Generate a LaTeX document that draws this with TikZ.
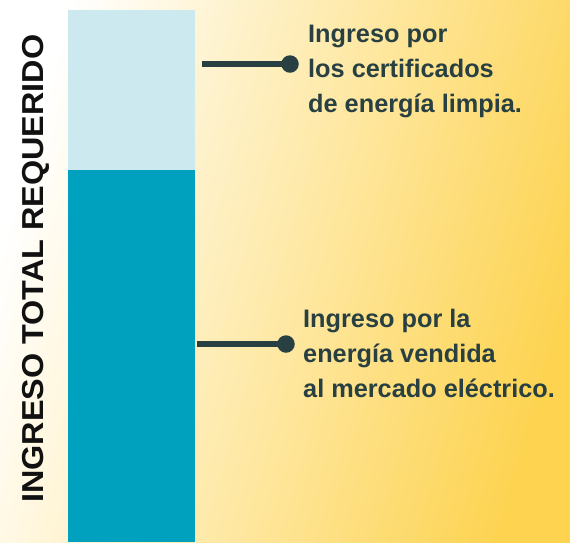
\documentclass[tikz,border=0pt]{standalone}
\usepackage{fontspec}
\setmainfont{Liberation Sans}
\definecolor{bglight}{RGB}{255,255,255}
\definecolor{bgmid}{RGB}{254,239,190}
\definecolor{bgyellow}{RGB}{253,211,80}
\definecolor{barlight}{RGB}{203,233,239}
\definecolor{bardark}{RGB}{0,160,191}
\definecolor{ink}{RGB}{40,64,65}
\definecolor{axisink}{RGB}{17,17,17}
\tikzset{
  label/.style={anchor=north west, inner sep=0pt, align=left, text=ink,
    font=\fontsize{25.3}{35}\selectfont\bfseries},
  dot/.style={circle, fill=ink, inner sep=0pt, minimum size=17.5pt},
  leader/.style={draw=ink, line width=6.5pt},
}
\begin{document}
\begin{tikzpicture}[x=1pt,y=-1pt]
\useasboundingbox (0,0) rectangle (570,542);
\shade[top color=bglight, middle color=bgmid, bottom color=bgyellow, shading angle=74] (0,0) rectangle (570,542);
% bar
\fill[barlight] (68,10) rectangle (195,170);
\fill[bardark] (68,170) rectangle (195,542);
% vertical axis label
\node[rotate=90, anchor=base west, inner sep=0pt, text=axisink,
  font=\fontsize{30.3}{36}\selectfont\bfseries] (axis) at (43.5,503)
  {\scalebox{1.068}[1]{INGRESO TOTAL REQUERIDO}};
% top label
\coordinate (s1) at (202,64);
\node[dot] (d1) at (290,64) {};
\draw[leader] (s1) -- (d1.center);
\node[label] (t1) at (308,24.5) {Ingreso por\\los certificados\\de energía limpia.};
% bottom label
\coordinate (s2) at (197,344);
\node[dot] (d2) at (286,344) {};
\draw[leader] (s2) -- (d2.center);
\node[label] (t2) at (303,308.5) {Ingreso por la\\energía vendida\\al mercado eléctrico.};
\end{tikzpicture}
\end{document}
